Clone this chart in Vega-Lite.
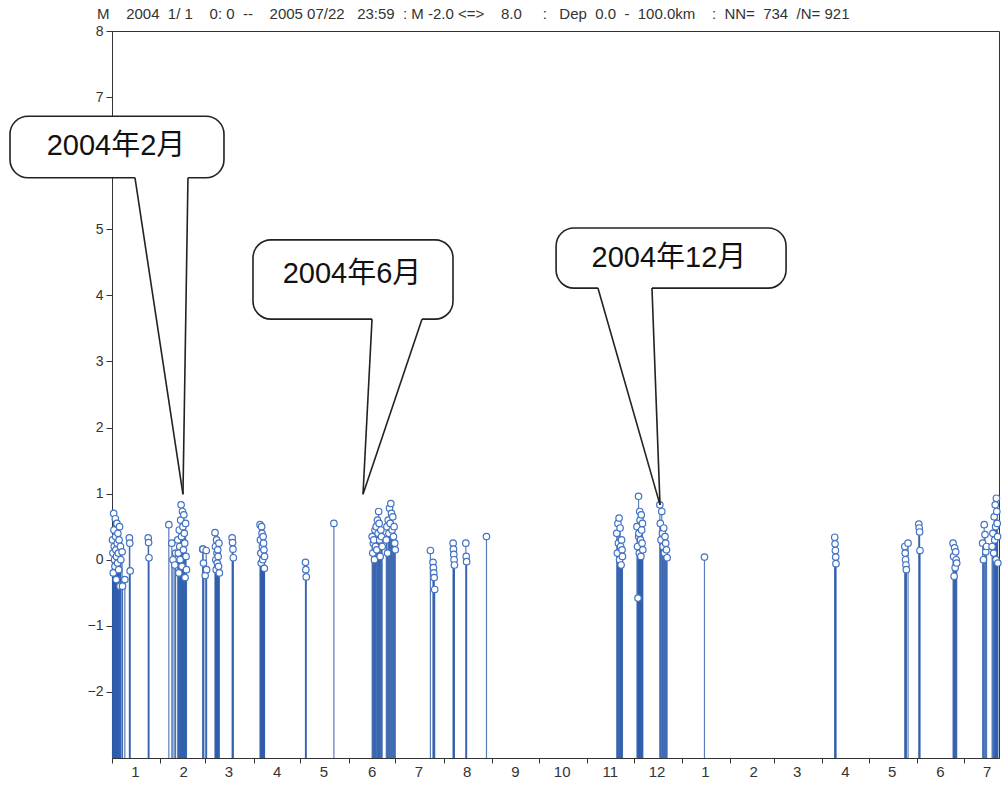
{
  "$schema": "https://vega.github.io/schema/vega-lite/v6.json",
  "width": 887,
  "height": 727,
  "autosize": {"type": "none"},
  "padding": {"left": 112, "top": 31, "right": 6, "bottom": 28},
  "background": "white",
  "title": {
    "text": "M\u00a0\u00a0\u00a0\u00a02004\u00a0\u00a01/\u00a01\u00a0\u00a0\u00a0\u00a00:\u00a00\u00a0\u00a0--\u00a0\u00a0\u00a0\u00a02005\u00a007/22\u00a0\u00a0\u00a023:59\u00a0\u00a0:\u00a0M\u00a0-2.0\u00a0<=>\u00a0\u00a0\u00a0\u00a08.0\u00a0\u00a0\u00a0\u00a0\u00a0:\u00a0\u00a0\u00a0Dep\u00a0\u00a00.0\u00a0\u00a0-\u00a0\u00a0100.0km\u00a0\u00a0\u00a0\u00a0:\u00a0\u00a0NN=\u00a0\u00a0734\u00a0\u00a0/N=\u00a0921",
    "anchor": "start",
    "frame": "group",
    "dx": -15,
    "offset": 0,
    "dy": -2,
    "fontSize": 15,
    "fontWeight": "normal",
    "color": "#333",
    "font": "Liberation Sans"
  },
  "config": {"view": {"stroke": "#333", "strokeWidth": 1}, "font": "Liberation Sans"},
  "datasets": {
    "events": [
      {"t":"2004-01-01T08:00","M":0.3},{"t":"2004-01-01T14:00","M":0.1},{"t":"2004-01-01T20:00","M":-0.2},{"t":"2004-01-02T02:00","M":0.7},{"t":"2004-01-02T06:00","M":0.45},{"t":"2004-01-02T10:00","M":0.2},{"t":"2004-01-02T15:00","M":0.0},{"t":"2004-01-02T21:00","M":-0.1},{"t":"2004-01-03T03:00","M":0.62},{"t":"2004-01-03T08:00","M":0.35},{"t":"2004-01-03T12:00","M":0.15},{"t":"2004-01-03T18:00","M":-0.3},{"t":"2004-01-03T22:00","M":0.05},{"t":"2004-01-04T04:00","M":0.55},{"t":"2004-01-04T09:00","M":0.25},{"t":"2004-01-04T14:00","M":-0.05},{"t":"2004-01-04T19:00","M":0.4},{"t":"2004-01-05T01:00","M":0.1},{"t":"2004-01-05T07:00","M":-0.15},{"t":"2004-01-05T13:00","M":0.3},{"t":"2004-01-05T20:00","M":0.5},{"t":"2004-01-06T03:00","M":-0.4},{"t":"2004-01-06T10:00","M":0.2},{"t":"2004-01-06T16:00","M":0.0},
      {"t":"2004-01-07T12:00","M":0.12},{"t":"2004-01-07T18:00","M":-0.4},{"t":"2004-01-09T06:00","M":-0.3},
      {"t":"2004-01-12T04:00","M":0.33},{"t":"2004-01-12T10:00","M":0.25},{"t":"2004-01-12T16:00","M":-0.17},
      {"t":"2004-01-24T06:00","M":0.33},{"t":"2004-01-24T12:00","M":0.26},{"t":"2004-01-24T18:00","M":0.03},
      {"t":"2004-02-06T12:00","M":0.53},
      {"t":"2004-02-08T10:00","M":0.25},{"t":"2004-02-09T04:00","M":0.0},{"t":"2004-02-10T08:00","M":-0.08},{"t":"2004-02-10T20:00","M":0.1},
      {"t":"2004-02-12T06:00","M":0.3},{"t":"2004-02-12T14:00","M":0.1},{"t":"2004-02-12T22:00","M":-0.2},{"t":"2004-02-13T05:00","M":0.45},{"t":"2004-02-13T12:00","M":0.2},{"t":"2004-02-13T19:00","M":0.0},{"t":"2004-02-14T02:00","M":0.6},{"t":"2004-02-14T09:00","M":0.83},{"t":"2004-02-14T16:00","M":0.35},{"t":"2004-02-14T23:00","M":-0.1},{"t":"2004-02-15T06:00","M":0.73},{"t":"2004-02-15T13:00","M":0.5},{"t":"2004-02-15T20:00","M":0.15},{"t":"2004-02-16T03:00","M":0.68},{"t":"2004-02-16T10:00","M":0.4},{"t":"2004-02-16T17:00","M":0.25},{"t":"2004-02-16T23:00","M":-0.27},{"t":"2004-02-17T06:00","M":0.55},{"t":"2004-02-17T13:00","M":0.05},{"t":"2004-02-17T20:00","M":-0.15},
      {"t":"2004-02-28T06:00","M":0.16},{"t":"2004-02-28T12:00","M":0.16},{"t":"2004-02-28T18:00","M":-0.05},{"t":"2004-02-29T20:00","M":-0.24},{"t":"2004-03-01T12:00","M":0.14},{"t":"2004-03-01T18:00","M":-0.15},
      {"t":"2004-03-07T04:00","M":0.41},{"t":"2004-03-07T10:00","M":0.2},{"t":"2004-03-07T16:00","M":0.0},{"t":"2004-03-07T22:00","M":-0.15},{"t":"2004-03-08T04:00","M":0.3},{"t":"2004-03-08T10:00","M":0.1},{"t":"2004-03-08T16:00","M":-0.05},{"t":"2004-03-08T22:00","M":0.15},{"t":"2004-03-09T04:00","M":0.05},{"t":"2004-03-09T10:00","M":-0.1},{"t":"2004-03-09T16:00","M":0.25},{"t":"2004-03-09T22:00","M":-0.2},
      {"t":"2004-03-18T04:00","M":0.33},{"t":"2004-03-18T10:00","M":0.26},{"t":"2004-03-18T16:00","M":0.16},{"t":"2004-03-18T22:00","M":0.03},
      {"t":"2004-04-05T02:00","M":0.53},{"t":"2004-04-05T08:00","M":0.3},{"t":"2004-04-05T14:00","M":0.1},{"t":"2004-04-05T20:00","M":-0.05},{"t":"2004-04-06T02:00","M":0.5},{"t":"2004-04-06T08:00","M":0.4},{"t":"2004-04-06T14:00","M":0.2},{"t":"2004-04-06T20:00","M":0.0},{"t":"2004-04-07T02:00","M":0.35},{"t":"2004-04-07T08:00","M":0.25},{"t":"2004-04-07T14:00","M":0.15},{"t":"2004-04-07T20:00","M":-0.13},{"t":"2004-04-07T23:00","M":0.05},
      {"t":"2004-05-04T06:00","M":-0.04},{"t":"2004-05-04T12:00","M":-0.15},{"t":"2004-05-04T18:00","M":-0.26},
      {"t":"2004-05-22T12:00","M":0.55},
      {"t":"2004-06-16T02:00","M":0.35},{"t":"2004-06-16T12:00","M":0.1},{"t":"2004-06-16T20:00","M":0.25},{"t":"2004-06-17T04:00","M":0.3},{"t":"2004-06-17T14:00","M":0.0},{"t":"2004-06-17T22:00","M":0.45},{"t":"2004-06-18T06:00","M":0.2},{"t":"2004-06-18T16:00","M":0.5},{"t":"2004-06-19T02:00","M":0.15},{"t":"2004-06-19T12:00","M":0.6},{"t":"2004-06-19T22:00","M":0.4},{"t":"2004-06-20T06:00","M":0.73},{"t":"2004-06-20T14:00","M":0.55},{"t":"2004-06-20T22:00","M":0.3},{"t":"2004-06-21T06:00","M":0.05},{"t":"2004-06-21T16:00","M":0.45},{"t":"2004-06-22T02:00","M":0.35},{"t":"2004-06-22T12:00","M":0.2},
      {"t":"2004-06-25T04:00","M":0.3},{"t":"2004-06-25T14:00","M":0.5},{"t":"2004-06-26T00:00","M":0.1},{"t":"2004-06-26T10:00","M":0.6},{"t":"2004-06-26T20:00","M":0.4},{"t":"2004-06-27T06:00","M":0.78},{"t":"2004-06-27T16:00","M":0.55},{"t":"2004-06-28T02:00","M":0.85},{"t":"2004-06-28T12:00","M":0.7},{"t":"2004-06-28T22:00","M":0.45},{"t":"2004-06-29T08:00","M":0.65},{"t":"2004-06-29T18:00","M":0.35},{"t":"2004-06-30T04:00","M":0.5},{"t":"2004-06-30T14:00","M":0.25},{"t":"2004-06-30T22:00","M":0.15},
      {"t":"2004-07-23T12:00","M":0.14},{"t":"2004-07-25T04:00","M":-0.04},{"t":"2004-07-25T10:00","M":-0.12},{"t":"2004-07-25T16:00","M":-0.2},{"t":"2004-07-25T22:00","M":-0.27},{"t":"2004-07-26T06:00","M":-0.45},
      {"t":"2004-08-07T02:00","M":0.25},{"t":"2004-08-07T07:00","M":0.16},{"t":"2004-08-07T12:00","M":0.08},{"t":"2004-08-07T17:00","M":0.0},{"t":"2004-08-07T22:00","M":-0.08},
      {"t":"2004-08-15T06:00","M":0.25},{"t":"2004-08-15T12:00","M":0.05},{"t":"2004-08-15T18:00","M":-0.03},
      {"t":"2004-08-28T12:00","M":0.35},
      {"t":"2004-11-20T04:00","M":0.4},{"t":"2004-11-20T14:00","M":0.1},{"t":"2004-11-20T22:00","M":0.55},{"t":"2004-11-21T06:00","M":0.25},{"t":"2004-11-21T16:00","M":0.63},{"t":"2004-11-22T00:00","M":0.0},{"t":"2004-11-22T08:00","M":0.48},{"t":"2004-11-22T16:00","M":0.2},{"t":"2004-11-22T23:00","M":-0.08},{"t":"2004-11-23T06:00","M":0.3},{"t":"2004-11-23T14:00","M":0.15},{"t":"2004-11-23T20:00","M":0.05},
      {"t":"2004-12-03T04:00","M":0.5},{"t":"2004-12-03T12:00","M":0.2},{"t":"2004-12-03T20:00","M":-0.58},{"t":"2004-12-04T04:00","M":0.96},{"t":"2004-12-04T07:00","M":0.35},{"t":"2004-12-04T10:00","M":0.4},{"t":"2004-12-04T16:00","M":0.1},{"t":"2004-12-04T22:00","M":0.73},{"t":"2004-12-05T04:00","M":0.6},{"t":"2004-12-05T10:00","M":0.3},{"t":"2004-12-05T16:00","M":0.05},{"t":"2004-12-05T22:00","M":0.68},{"t":"2004-12-06T04:00","M":0.45},{"t":"2004-12-06T10:00","M":0.25},{"t":"2004-12-06T16:00","M":0.55},{"t":"2004-12-06T22:00","M":0.15},
      {"t":"2004-12-17T20:00","M":0.83},{"t":"2004-12-18T04:00","M":0.55},{"t":"2004-12-18T14:00","M":0.3},{"t":"2004-12-19T02:00","M":0.73},{"t":"2004-12-19T12:00","M":0.4},{"t":"2004-12-19T22:00","M":0.2},{"t":"2004-12-20T08:00","M":0.48},{"t":"2004-12-20T18:00","M":0.1},{"t":"2004-12-21T04:00","M":0.35},{"t":"2004-12-21T14:00","M":0.25},{"t":"2004-12-22T02:00","M":0.15},{"t":"2004-12-22T12:00","M":0.03},
      {"t":"2005-01-15T12:00","M":0.04},
      {"t":"2005-04-09T04:00","M":0.34},{"t":"2005-04-09T09:00","M":0.24},{"t":"2005-04-09T14:00","M":0.14},{"t":"2005-04-09T19:00","M":0.04},{"t":"2005-04-09T23:00","M":-0.06},
      {"t":"2005-05-24T04:00","M":0.2},{"t":"2005-05-24T10:00","M":0.1},{"t":"2005-05-24T16:00","M":0.0},{"t":"2005-05-24T22:00","M":-0.08},{"t":"2005-05-25T04:00","M":-0.15},{"t":"2005-05-26T06:00","M":0.25},
      {"t":"2005-06-02T04:00","M":0.54},{"t":"2005-06-02T10:00","M":0.48},{"t":"2005-06-02T16:00","M":0.42},{"t":"2005-06-02T22:00","M":0.14},
      {"t":"2005-06-24T04:00","M":0.25},{"t":"2005-06-24T12:00","M":0.05},{"t":"2005-06-24T20:00","M":-0.25},{"t":"2005-06-25T04:00","M":0.18},{"t":"2005-06-25T12:00","M":-0.12},{"t":"2005-06-25T20:00","M":0.12},{"t":"2005-06-26T04:00","M":0.0},{"t":"2005-06-26T12:00","M":-0.05},
      {"t":"2005-07-13T04:00","M":0.25},{"t":"2005-07-13T16:00","M":0.0},{"t":"2005-07-14T04:00","M":0.53},{"t":"2005-07-14T16:00","M":0.38},{"t":"2005-07-15T04:00","M":0.12},{"t":"2005-07-15T16:00","M":0.2},
      {"t":"2005-07-19T06:00","M":0.2},{"t":"2005-07-19T18:00","M":0.4},{"t":"2005-07-20T06:00","M":0.1},{"t":"2005-07-20T14:00","M":0.65},{"t":"2005-07-20T22:00","M":0.3},{"t":"2005-07-21T06:00","M":0.83},{"t":"2005-07-21T12:00","M":0.5},{"t":"2005-07-21T18:00","M":0.0},{"t":"2005-07-22T00:00","M":0.93},{"t":"2005-07-22T06:00","M":0.73},{"t":"2005-07-22T12:00","M":0.55},{"t":"2005-07-22T18:00","M":0.35},{"t":"2005-07-22T22:00","M":-0.05}
    ],
    "callouts": [
      {"label":"2004年2月","x1":"2003-10-27T12:00","x2":"2004-03-12T22:00","yTop":6.71,"yBot":5.78,"xc":"2004-01-03T14:00","yc":6.26,"baseL":"2004-01-15T18:00","baseR":"2004-02-18T19:00"},
      {"label":"2004年6月","x1":"2004-03-31T13:00","x2":"2004-08-07T00:00","yTop":4.84,"yBot":3.64,"xc":"2004-06-03T03:00","yc":4.32,"baseL":"2004-06-16T00:00","baseR":"2004-07-18T02:00"},
      {"label":"2004年12月","x1":"2004-10-12T05:00","x2":"2005-03-08T22:00","yTop":5.02,"yBot":4.11,"xc":"2004-12-23T17:00","yc":4.57,"baseL":"2004-11-08T02:00","baseR":"2004-12-12T19:00"}
    ],
    "pointers": [
      {"xa":"2004-01-15T18:00","ya":5.78,"xb":"2004-02-15T14:00","yb":0.99},
      {"xa":"2004-02-18T19:00","ya":5.78,"xb":"2004-02-15T14:00","yb":0.99},
      {"xa":"2004-06-16T00:00","ya":3.64,"xb":"2004-06-10T05:00","yb":0.99},
      {"xa":"2004-07-18T02:00","ya":3.64,"xb":"2004-06-10T05:00","yb":0.99},
      {"xa":"2004-11-08T02:00","ya":4.11,"xb":"2004-12-17T23:00","yb":0.83},
      {"xa":"2004-12-12T19:00","ya":4.11,"xb":"2004-12-17T23:00","yb":0.83}
    ]
  },
  "layer": [
    {
      "data": {"name": "events"},
      "mark": {"type": "rule", "color": "#2d5dab", "strokeWidth": 1.2, "opacity": 0.8},
      "encoding": {
        "x": {"field": "t", "type": "temporal", "title": null,
          "scale": {"domain": [{"year": 2004, "month": 1, "date": 1}, {"year": 2005, "month": 7, "date": 23, "hours": 16}]},
          "axis": {"title": null, "tickCount": {"interval": "month", "step": 1}, "format": "%-m", "labelOffset": 23, "labelFontSize": 15, "labelColor": "#333", "tickColor": "#333", "domainColor": "#333", "tickSize": 5, "labelPadding": 1, "labelOverlap": false, "labelBound": false, "labelFlush": false, "grid": false}},
        "y": {"field": "M", "type": "quantitative", "title": null,
          "scale": {"domain": [-3, 8], "nice": false, "zero": false},
          "axis": {"title": null, "values": [-2, -1, 0, 1, 2, 3, 4, 5, 7, 8], "format": "d", "labelFontSize": 14, "labelColor": "#333", "tickSize": 6, "grid": false, "domainColor": "#333", "tickColor": "#333", "labelPadding": 3}},
        "y2": {"datum": -3}
      }
    },
    {
      "data": {"name": "events"},
      "mark": {"type": "point", "shape": "circle", "filled": false, "fill": "white", "fillOpacity": 1, "stroke": "#4272c4", "strokeWidth": 1.2, "size": 42},
      "encoding": {
        "x": {"field": "t", "type": "temporal", "title": null},
        "y": {"field": "M", "type": "quantitative", "title": null}
      }
    },
    {
      "data": {"name": "callouts"},
      "mark": {"type": "rect", "fill": "white", "stroke": "#222", "strokeWidth": 1.6, "cornerRadius": 18},
      "encoding": {
        "x": {"field": "x1", "type": "temporal", "title": null},
        "x2": {"field": "x2"},
        "y": {"field": "yTop", "type": "quantitative", "title": null},
        "y2": {"field": "yBot"}
      }
    },
    {
      "data": {"name": "callouts"},
      "mark": {"type": "rule", "color": "white", "strokeWidth": 3.5},
      "encoding": {
        "x": {"field": "baseL", "type": "temporal", "title": null},
        "x2": {"field": "baseR"},
        "y": {"field": "yBot", "type": "quantitative", "title": null},
        "y2": {"field": "yBot"}
      }
    },
    {
      "data": {"name": "pointers"},
      "mark": {"type": "rule", "color": "#222", "strokeWidth": 1.6},
      "encoding": {
        "x": {"field": "xa", "type": "temporal", "title": null},
        "x2": {"field": "xb"},
        "y": {"field": "ya", "type": "quantitative", "title": null},
        "y2": {"field": "yb"}
      }
    },
    {
      "data": {"name": "callouts"},
      "mark": {"type": "text", "fontSize": 29, "font": "Liberation Sans, Noto Sans CJK JP", "color": "#111", "align": "center", "baseline": "middle"},
      "encoding": {
        "x": {"field": "xc", "type": "temporal", "title": null},
        "y": {"field": "yc", "type": "quantitative", "title": null},
        "text": {"field": "label"}
      }
    }
  ]
}
